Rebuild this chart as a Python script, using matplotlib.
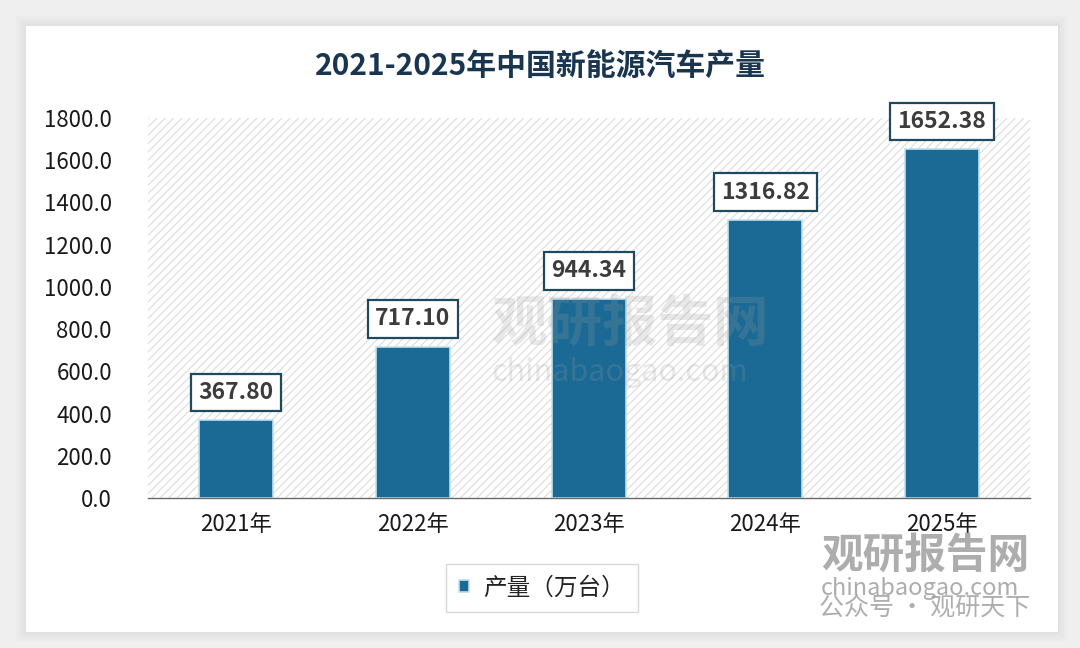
import matplotlib
matplotlib.use("Agg")
import matplotlib.pyplot as plt
from matplotlib.patches import Rectangle
from matplotlib.ticker import FormatStrFormatter

plt.rcParams['font.family'] = ['Noto Sans CJK SC', 'DejaVu Sans']
plt.rcParams['hatch.linewidth'] = 0.8

title = "2021-2025年中国新能源汽车产量"
categories = ["2021年", "2022年", "2023年", "2024年", "2025年"]
values = [367.80, 717.10, 944.34, 1316.82, 1652.38]
value_labels = ["367.80", "717.10", "944.34", "1316.82", "1652.38"]
series_name = "产量（万台）"
yticks = [0, 200, 400, 600, 800, 1000, 1200, 1400, 1600, 1800]

W, H = 1080, 648
fig = plt.figure(figsize=(W / 100, H / 100), dpi=100)
fig.patch.set_facecolor('#efefef')

# card with soft shadow
for i, a in enumerate([0.05, 0.05, 0.06]):
    d = (3 - i) * 3
    fig.patches.append(Rectangle(((25 - d) / W, 1 - (632 + d) / H), (1033 + 2 * d) / W, (607 + 2 * d) / H,
                                 transform=fig.transFigure, facecolor='#b0b0b0', alpha=a,
                                 edgecolor='none', zorder=-3))
fig.patches.append(Rectangle((25 / W, 1 - 632 / H), 1033 / W, 607 / H, transform=fig.transFigure,
                             facecolor='white', edgecolor='#e2e2e2', lw=0.8, zorder=-2))

ax = fig.add_axes([148 / W, 1 - 498 / H, (1030 - 148) / W, (498 - 118) / H])
ax.set_facecolor('none')
ax.add_patch(Rectangle((0, 0), 1, 1, transform=ax.transAxes, facecolor='white',
                       edgecolor='#dcdcdc', linewidth=0, hatch='////', zorder=0))

x = list(range(len(categories)))
ax.bar(x, values, width=0.42, color='#1b6a95', edgecolor='#bfe0f0', linewidth=1.2, zorder=2,
       label=series_name)

ax.set_xlim(-0.5, len(categories) - 0.5)
ax.set_ylim(0, 1800)
ax.set_yticks(yticks)
ax.yaxis.set_major_formatter(FormatStrFormatter('%.1f'))
ax.set_xticks(x)
ax.set_xticklabels(categories)
ax.tick_params(axis='y', length=0, pad=26, labelsize=16, labelcolor='#1a1a1a')
ax.tick_params(axis='x', length=0, pad=11, labelsize=16, labelcolor='#1a1a1a')
for s in ['top', 'right', 'left']:
    ax.spines[s].set_visible(False)
ax.spines['bottom'].set_color('#6a6a6a')
ax.spines['bottom'].set_linewidth(1.0)
ax.spines['bottom'].set_zorder(3)

for xi, v, lab in zip(x, values, value_labels):
    ax.annotate(lab, (xi, v), xytext=(0, 20), textcoords='offset points', ha='center', va='center',
                fontsize=16.5, fontweight='bold', color='#3c3c3c', zorder=5,
                bbox=dict(boxstyle='square,pad=0.32', facecolor='white', edgecolor='#1f4a5e', linewidth=1.6))

fig.text(0.5, 1 - 66 / H, title, ha='center', va='center', fontsize=21.5, fontweight='bold', color='#1a3550')

leg = ax.legend(loc='center', bbox_to_anchor=(542 / W, 1 - 588 / H), bbox_transform=fig.transFigure,
                frameon=True, fancybox=False, edgecolor='#cfcfcf', fontsize=17, handlelength=0.45,
                handleheight=0.45, borderpad=0.55, handletextpad=0.6, borderaxespad=0)
leg.get_frame().set_linewidth(1.0)
for t in leg.get_texts():
    t.set_color('#222222')

# watermarks
fig.text(630 / W, 1 - 325 / H, "观研报告网", ha='center', va='center', fontsize=40, fontweight='bold',
         color='#9a9a9a', alpha=0.22, zorder=10)
fig.text(620 / W, 1 - 372 / H, "chinabaogao.com", ha='center', va='center', fontsize=22,
         color='#9a9a9a', alpha=0.22, zorder=10)
fig.text(925 / W, 1 - 556 / H, "观研报告网", ha='center', va='center', fontsize=30, fontweight='bold',
         color='#8a8a8a', alpha=0.7, zorder=10)
fig.text(920 / W, 1 - 588 / H, "chinabaogao.com", ha='center', va='center', fontsize=17,
         color='#8a8a8a', alpha=0.7, zorder=10)
fig.text(925 / W, 1 - 608 / H, "公众号 · 观研天下", ha='center', va='center', fontsize=18,
         color='#9a9a9a', alpha=0.8, zorder=11)

fig.savefig("out.png", dpi=100, facecolor=fig.get_facecolor())
